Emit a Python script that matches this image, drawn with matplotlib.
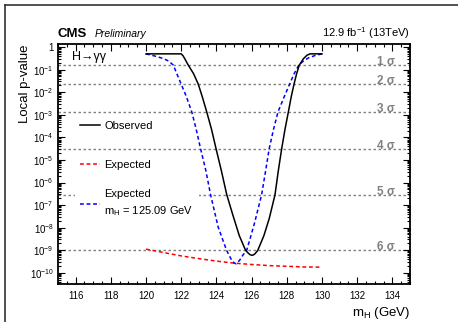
import numpy as np
import matplotlib
matplotlib.use("Agg")
import matplotlib.pyplot as plt
from matplotlib.ticker import LogLocator, FuncFormatter, MultipleLocator, NullFormatter, FixedLocator
from matplotlib.lines import Line2D

plt.rcParams['font.family'] = ['Liberation Sans', 'DejaVu Sans']
plt.rcParams['mathtext.fontset'] = 'custom'
plt.rcParams['mathtext.rm'] = 'Liberation Sans'
plt.rcParams['mathtext.it'] = 'Liberation Sans:italic'
plt.rcParams['mathtext.bf'] = 'Liberation Sans:bold'

# observed local p-value (log10)
mh_obs = [120.0, 122.0, 122.1, 122.2, 122.4, 122.7, 122.97, 123.2, 123.45, 123.72, 123.98,
          124.28, 124.59, 124.95, 125.3, 125.66, 125.8, 125.9, 126.0, 126.1, 126.2, 126.35,
          126.7, 127.0, 127.33, 127.52, 127.71, 127.9, 128.09, 128.25, 128.41, 128.56, 128.71,
          128.95, 129.15, 129.32, 130.0]
logp_obs = [-0.301, -0.301, -0.38, -0.511, -0.799, -1.175, -1.643, -2.207, -2.870, -3.633, -4.499,
            -5.469, -6.543, -7.478, -8.35, -9.006, -9.12, -9.19, -9.22, -9.21, -9.15, -9.006,
            -8.35, -7.60, -6.543, -5.469, -4.499, -3.633, -2.870, -2.207, -1.643, -1.175, -0.799,
            -0.511, -0.36, -0.301, -0.301]

# expected for mH = 125.09 GeV (blue)
mh_exp125 = [120.0, 120.5, 121.0, 121.3, 121.55, 121.75, 122.0, 122.3, 122.6, 122.85, 123.1,
             123.4, 123.67, 124.1, 124.58, 124.72, 124.85, 125.0, 125.1, 125.2, 125.35, 125.5,
             125.72, 126.15, 126.57, 126.8, 127.0, 127.25, 127.5, 127.85, 128.16, 128.42, 128.68,
             128.95, 129.22, 129.6, 130.0]
logp_exp125 = [-0.301, -0.397, -0.511, -0.627, -0.799, -1.175, -1.643, -2.207, -2.870, -3.633,
               -4.499, -5.469, -6.543, -7.97, -9.006, -9.22, -9.41, -9.55, -9.60, -9.55, -9.41,
               -9.22, -9.006, -7.845, -6.543, -5.469, -4.499, -3.633, -2.870, -2.207, -1.643,
               -1.175, -0.799, -0.616, -0.486, -0.376, -0.301]

# expected at each mass hypothesis (red)
mh_exp = [120, 121, 122, 123, 124, 125, 126, 127, 128, 129, 130]
logp_exp = [-8.95, -9.10, -9.25, -9.37, -9.48, -9.57, -9.63, -9.68, -9.71, -9.74, -9.75]

# significance lines
sig_p = [0.1587, 0.02275, 1.35e-3, 3.17e-5, 2.87e-7, 9.87e-10]
sig_labels = ["1 σ", "2 σ", "3 σ", "4 σ", "5 σ", "6 σ"]

# y decades with labels
y_exponents = list(range(-10, 1))

fig = plt.figure(figsize=(4.58, 3.22), dpi=100)
ax = fig.add_axes([0.1266, 0.118, 0.7686, 0.745])

for p in sig_p:
    ax.axhline(p, color='#808080', lw=1.0, ls=(0, (1.8, 1.8)), zorder=1)
for p, lab in zip(sig_p, sig_labels):
    ax.text(0.957, p, lab, transform=ax.get_yaxis_transform(), ha='right', va='baseline',
            fontsize=8.5, fontweight='bold', color='#808080', zorder=2)

l_obs, = ax.plot(mh_obs, 10 ** np.array(logp_obs), color='black', lw=1.1, zorder=4)
l_exp, = ax.plot(mh_exp, 10 ** np.array(logp_exp), color='red', lw=1.1, ls=(0, (2.5, 1.8)), zorder=3)
l_exp125, = ax.plot(mh_exp125, 10 ** np.array(logp_exp125), color='blue', lw=1.1,
                    ls=(0, (2.5, 1.8)), zorder=3)

ax.set_yscale('log')
ax.set_xlim(115, 135)
ax.set_ylim(3.2e-11, 1.35)

ax.xaxis.set_major_locator(MultipleLocator(2))
ax.xaxis.set_minor_locator(MultipleLocator(0.5))
ax.yaxis.set_major_locator(FixedLocator([10.0 ** e for e in y_exponents]))
ax.yaxis.set_minor_locator(LogLocator(base=10, subs=np.arange(2, 10), numticks=100))
ax.yaxis.set_minor_formatter(NullFormatter())


def ylab(v, pos):
    e = int(round(np.log10(v)))
    return '1' if e == 0 else r'$10^{%d}$' % e


ax.yaxis.set_major_formatter(FuncFormatter(ylab))
ax.tick_params(which='both', direction='in', top=True, right=True, width=0.8)
ax.tick_params(which='major', length=5, labelsize=7, pad=3)
ax.tick_params(axis='x', which='major', pad=5)
ax.tick_params(which='minor', length=2.5)
for s in ax.spines.values():
    s.set_linewidth(1.3)

ax.set_ylabel('Local p-value', fontsize=9.5, loc='top', labelpad=-1)
ax.set_xlabel(r'm$_{\mathrm{H}}$ (GeV)', fontsize=9.5, loc='right', labelpad=3)

ax.text(0.04, 0.97, 'H→γγ', transform=ax.transAxes, ha='left', va='top', fontsize=9)
ax.text(0.0, 1.03, 'CMS', transform=ax.transAxes, ha='left', va='baseline',
        fontsize=9.5, fontweight='bold')
ax.text(0.105, 1.03, 'Preliminary', transform=ax.transAxes, ha='left', va='baseline',
        fontsize=7.5, style='italic')
ax.text(1.0, 1.03, r'12.9 fb$^{-1}$ (13TeV)', transform=ax.transAxes, ha='right',
        va='baseline', fontsize=8)

leg1 = ax.legend([l_obs, l_exp], ['Observed', 'Expected'], loc='center left',
                 bbox_to_anchor=(0.0625, 0.577), frameon=False, fontsize=8, handlelength=1.8,
                 handletextpad=0.4, labelspacing=2.65, borderpad=0, borderaxespad=0)
ax.add_artist(leg1)
leg2 = ax.legend([l_exp125], ['Expected\n' + r'm$_{\mathrm{H}}$ = 125.09 GeV'], loc='center left',
                 bbox_to_anchor=(0.048, 0.335), frameon=True, fontsize=8, handlelength=1.8,
                 handletextpad=0.4, borderpad=0.45, borderaxespad=0, fancybox=False)
leg2.get_frame().set_facecolor('white')
leg2.get_frame().set_edgecolor('none')
leg2.get_frame().set_alpha(1)
leg2.get_texts()[0].set_linespacing(1.45)
leg2.set_zorder(5)

# canvas border seen at the top and left of the picture
fig.add_artist(Line2D([0.011, 0.011], [0.0, 0.983], color='#333333', lw=1.2))
fig.add_artist(Line2D([0.011, 1.0], [0.983, 0.983], color='#333333', lw=1.2))

fig.savefig('out.png', dpi=100)
